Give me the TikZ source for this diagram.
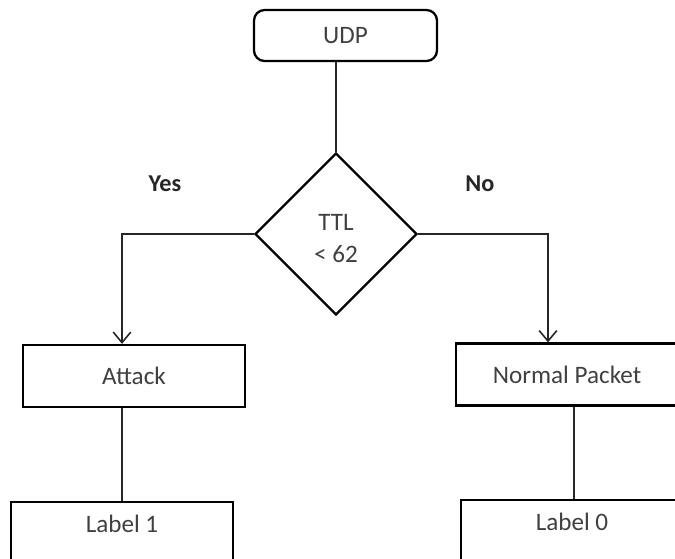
\documentclass[tikz,border=0pt]{standalone}
\usepackage{fontspec}
\setmainfont{Carlito}
\usetikzlibrary{arrows.meta,positioning,shapes.geometric}

\tikzset{
  box/.style={draw,line width=1.3pt,minimum width=4.44cm,minimum height=1.24cm,text=black!75,font=\fontsize{14.3}{17}\selectfont},
  startbox/.style={box,rounded corners=6pt,minimum width=3.66cm,minimum height=1.02cm},
  endbox/.style={box,anchor=north,minimum height=0pt,text height=9pt,text depth=30pt,inner ysep=8pt},
  decide/.style={draw,diamond,line width=1.3pt,minimum width=3.24cm,minimum height=3.24cm,inner sep=0pt},
  branch/.style={font=\bfseries\fontsize{13.8}{16}\selectfont,text=black!85},
  link/.style={line width=0.9pt,draw=black!85}
}

\begin{document}
\begin{tikzpicture}
\useasboundingbox (0,0) rectangle (13.5,-11.16);
\clip (0,0) rectangle (13.5,-11.16);
\node[startbox] (udp) at (6.91,-0.71) {UDP};
\node[decide,label={[shift={(0,-0.09)},align=center,text=black!75,font=\fontsize{14.3}{18.7}\selectfont]center:TTL\\< 62}] (ttl) at (6.72,-4.68) {};
\node[box] (attack) at (2.68,-7.52) {Attack};
\node[box] (normal) at (11.34,-7.49) {Normal Packet};
\node[endbox] (lab1) at (2.44,-10.02) {Label 1};
\node[endbox] (lab0) at (11.44,-9.98) {Label 0};
\node[branch] (yes) at (3.3,-3.68) {Yes};
\node[branch] (no) at (9.6,-3.68) {No};
\draw[link] (ttl.north |- udp.south)--(ttl.north);
\draw[link,-{Straight Barb[length=6pt,width=10pt,line width=0.9pt]}] (ttl.west) -| (lab1.north |- attack.north);
\draw[link,-{Straight Barb[length=6pt,width=10pt,line width=0.9pt]}] (ttl.east) -| ([xshift=-0.38cm]normal.north);
\draw[link] (lab1.north |- attack.south)--(lab1.north);
\draw[link] ([xshift=0.04cm]lab0.north |- normal.south)--([xshift=0.04cm]lab0.north);
\end{tikzpicture}
\end{document}
